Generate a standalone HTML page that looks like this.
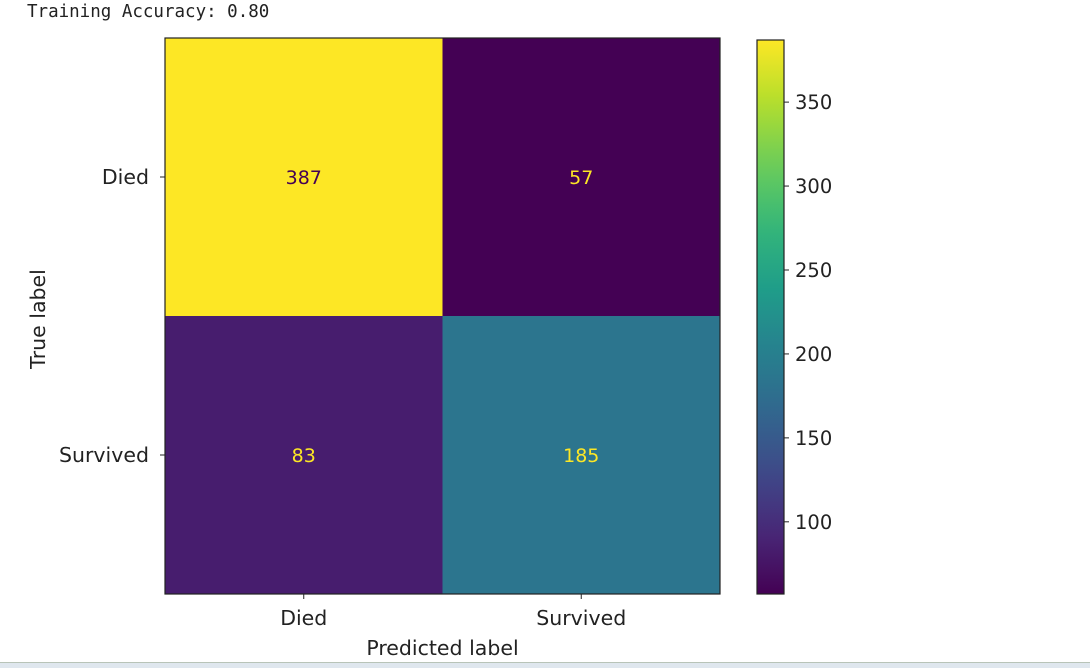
<!DOCTYPE html>
<html><head><meta charset="utf-8"><style>
body{margin:0;width:1090px;height:667px;background:#fff;overflow:hidden;position:relative;font-family:"DejaVu Sans","Liberation Sans",sans-serif}
#hdr{position:absolute;left:27px;top:2px;font-family:"DejaVu Sans Mono","Liberation Mono",monospace;font-size:17.5px;color:#222}
#band{position:absolute;left:0;top:662px;width:1090px;height:5px;background:#dfe7ee;border-top:1px solid #b8c4b8}
</style></head><body>
<div id="hdr">Training Accuracy: 0.80</div>
<svg id="chart" width="1090" height="667" style="position:absolute;left:0;top:0"></svg>
<div id="band"></div>
<script>
const labels=["Died","Survived"];
const matrix=[[387,57],[83,185]];
const cbTicks=[100,150,200,250,300,350];
const vmin=57, vmax=387;
const vir=[[68,1,84],[72,40,120],[62,74,137],[49,104,142],[38,130,142],[31,158,137],[53,183,121],[109,205,89],[180,222,44],[253,231,37]];
function col(t){t=Math.max(0,Math.min(1,t));const p=t*9,i=Math.min(8,Math.floor(p)),f=p-i;const a=vir[i],b=vir[i+1];return `rgb(${a.map((v,k)=>Math.round(v+(b[k]-v)*f)).join(',')})`;}
const NS="http://www.w3.org/2000/svg",svg=document.getElementById('chart');
function el(t,a,txt){const e=document.createElementNS(NS,t);for(const k in a)e.setAttribute(k,a[k]);if(txt!=null)e.textContent=txt;svg.appendChild(e);return e;}
const X0=165,X1=720,Y0=38,Y1=594,cw=(X1-X0)/2,ch=(Y1-Y0)/2;
const xs=i=>X0+i*cw, ys=i=>Y0+i*ch;
for(let r=0;r<2;r++)for(let c=0;c<2;c++){
 const v=matrix[r][c],t=(v-vmin)/(vmax-vmin);
 const rc=el('rect',{x:xs(c),y:ys(r),width:cw+0.5,height:ch+0.5,fill:col(t)});
 
 
 const tx=el('text',{x:xs(c)+cw/2,y:ys(r)+ch/2+7,'text-anchor':'middle','font-size':19,fill:t>0.5?'#440154':'#fde725'},v);
 
 
}
el('rect',{x:X0,y:Y0,width:X1-X0,height:Y1-Y0,fill:'none',stroke:'#222','stroke-width':1.2});
labels.forEach((l,i)=>{
 const cx=xs(i)+cw/2,cy=ys(i)+ch/2;
 el('line',{x1:cx,y1:Y1,x2:cx,y2:Y1+5,stroke:'#222'});
 const a=el('text',{x:cx,y:Y1+31,'text-anchor':'middle','font-size':20.5,fill:'#222'},l);
 
 el('line',{x1:X0-5,y1:cy,x2:X0,y2:cy,stroke:'#222'});
 const b=el('text',{x:X0-16,y:cy+7,'text-anchor':'end','font-size':20.5,fill:'#222'},l);
 
});
const xt=el('text',{x:(X0+X1)/2,y:655,'text-anchor':'middle','font-size':20.5,fill:'#222'},'Predicted label');

const yt=el('text',{x:45,y:(Y0+Y1)/2+3,'text-anchor':'middle','font-size':20.5,fill:'#222',transform:`rotate(-90 45 ${(Y0+Y1)/2+3})`},'True label');

const CX=757,CW=27,CT=40,CB=594;
const defs=el('defs',{});const g=document.createElementNS(NS,'linearGradient');g.setAttribute('id','vg');g.setAttribute('x1','0');g.setAttribute('y1','1');g.setAttribute('x2','0');g.setAttribute('y2','0');defs.appendChild(g);
for(let i=0;i<=20;i++){const s=document.createElementNS(NS,'stop');s.setAttribute('offset',i/20);s.setAttribute('stop-color',col(i/20));g.appendChild(s);}
const cb=el('rect',{x:CX,y:CT,width:CW,height:CB-CT,fill:'url(#vg)',stroke:'#222','stroke-width':1.2});

const cy=v=>CB-(v-vmin)/(vmax-vmin)*(CB-CT);
cbTicks.forEach(v=>{
 el('line',{x1:CX+CW,y1:cy(v),x2:CX+CW+5,y2:cy(v),stroke:'#222'});
 const t=el('text',{x:CX+CW+11,y:cy(v)+7,'font-size':19.5,fill:'#222'},v);
 
});
</script>
</body></html>
